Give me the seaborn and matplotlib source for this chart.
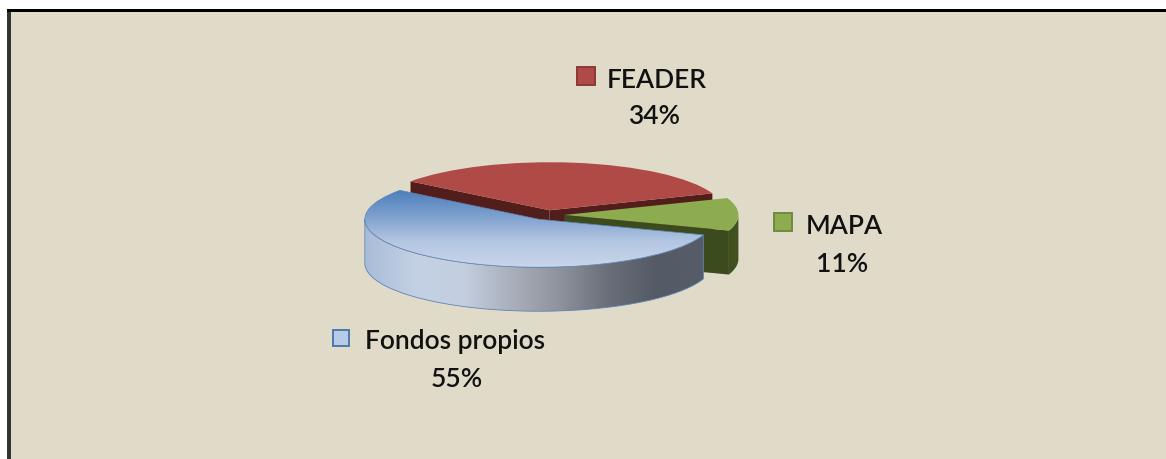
import numpy as np
import matplotlib
matplotlib.use("Agg")
import matplotlib.pyplot as plt
import seaborn as sns
from matplotlib.colors import LinearSegmentedColormap
from matplotlib.patches import Polygon, Rectangle

categories = ["FEADER", "MAPA", "Fondos propios"]
shares = [34, 11, 55]
share_labels = ["34%", "11%", "55%"]

W, H = 1166, 460
BG = "#e0dbc9"
TOP_COLORS = ["#b04a47", "#8dab4f", "#b8cbe6"]
SIDE_COLORS = ["#521e1c", "#40511f", "#8f939c"]
KEY_EDGES = ["#8c3836", "#71893f", "#4f79ad"]

sns.set_theme(style="white")
plt.rcParams["font.family"] = ["Lato", "DejaVu Sans"]

# pie centre and half axes in image pixels, depth of the rim too
CX, CY, RX, RY, DEPTH = 547, 216, 174, 48, 44 / 48

fig = plt.figure(figsize=(W / 100, H / 100), dpi=100, facecolor="white")
ax = fig.add_axes([11 / W, 0, 1 - 11 / W, 1 - 13 / H])
ax.set_facecolor(BG)

wedges, _ = ax.pie(
    shares,
    explode=[0.1, 0.1, 0.1],
    colors=TOP_COLORS,
    startangle=143,
    counterclock=False,
    radius=1,
    wedgeprops={"linewidth": 0},
)


def arc(wedge, a1, a2, drop=0.0):
    t = np.radians(np.linspace(a1, a2, 80))
    x0, y0 = wedge.center
    return np.column_stack([x0 + wedge.r * np.cos(t), y0 + wedge.r * np.sin(t) - drop])


def cut_face(wedge, angle, color, zorder):
    x0, y0 = wedge.center
    edge = arc(wedge, angle, angle)[0]
    pts = [(x0, y0), edge, (edge[0], edge[1] - DEPTH), (x0, y0 - DEPTH)]
    ax.add_patch(Polygon(pts, closed=True, fc=color, ec="none", zorder=zorder))


def rim(wedge, fc, ec, zorder):
    a1 = max(wedge.theta1, -180)
    a2 = min(wedge.theta2, 0)
    pts = np.vstack([arc(wedge, a1, a2), arc(wedge, a2, a1, DEPTH)])
    patch = Polygon(pts, closed=True, fc=fc, ec=ec, lw=0.6, zorder=zorder)
    ax.add_patch(patch)
    return patch


red, green, blue = wedges
red.set_zorder(2)
cut_face(red, red.theta1, SIDE_COLORS[0], 1)
cut_face(red, red.theta2, SIDE_COLORS[0], 1)

green.set_zorder(4)
cut_face(green, green.theta1, "#3c4b1e", 3)
rim(green, SIDE_COLORS[1], "none", 3)

# blue slice: gradients clipped to the rim and the top
side_cmap = LinearSegmentedColormap.from_list(
    "side", ["#a9bcd8", "#c3d0e4", "#c4cfe0", "#aab0bc", "#8f939c", "#6a6f7a", "#555b66", "#565c68"]
)
top_cmap = LinearSegmentedColormap.from_list("top", ["#4a7dbd", "#7c9fcd", "#b3c6e2", "#c9d6ea"])

x0, y0 = blue.center
rim_patch = rim(blue, "none", "#5f84b4", 6)
grad = np.linspace(0, 1, 256)
img = ax.imshow(
    grad[None, :],
    cmap=side_cmap,
    extent=(x0 - 1, x0 + np.cos(np.radians(blue.theta2)), y0 - 2, y0),
    aspect="auto",
    zorder=5,
)
img.set_clip_path(rim_patch)

blue.set_facecolor("none")
blue.set_edgecolor("#5f84b4")
blue.set_linewidth(0.5)
blue.set_zorder(8)
img2 = ax.imshow(
    grad[:, None],
    cmap=top_cmap,
    extent=(x0 - 1, x0 + 1, y0 - 1, y0 + 0.62),
    aspect="auto",
    zorder=7,
)
img2.set_clip_path(blue)

ax.set_aspect("auto")
ax.set_xlim((11 - CX) / RX, (W - CX) / RX)
ax.set_ylim((CY - H) / RY, (CY - 13) / RY)
ax.set_axis_off()
ax.add_artist(Rectangle((0, 0), 1, 1, transform=ax.transAxes, fc=BG, ec="none", zorder=-5))

# frame, only top and left like the screenshot
fig.add_artist(Rectangle((7 / W, 0), 4 / W, 1 - 10 / H, transform=fig.transFigure, fc="#333333", ec="none"))
fig.add_artist(Rectangle((7 / W, 1 - 13 / H), 1 - 7 / W, 3 / H, transform=fig.transFigure, fc="black", ec="none"))

key_boxes = [(577, 68, 18), (774, 214, 18), (333, 331, 16)]
name_pos = [(607, 80), (806, 227), (365, 342)]
pct_pos = [(654, 117), (842, 265), (457, 380)]

for i, name in enumerate(categories):
    kx, ky, ks = key_boxes[i]
    fig.add_artist(
        Rectangle((kx / W, 1 - (ky + ks) / H), ks / W, ks / H, transform=fig.transFigure,
                  fc=TOP_COLORS[i], ec=KEY_EDGES[i], lw=1.4)
    )
    fig.text(name_pos[i][0] / W, 1 - name_pos[i][1] / H, name, fontsize=19, color="#111111",
             fontweight="semibold", ha="left", va="center")
    fig.text(pct_pos[i][0] / W, 1 - pct_pos[i][1] / H, share_labels[i], fontsize=19, color="#111111",
             fontweight="semibold", ha="center", va="center")

fig.savefig("out.png", dpi=100)
